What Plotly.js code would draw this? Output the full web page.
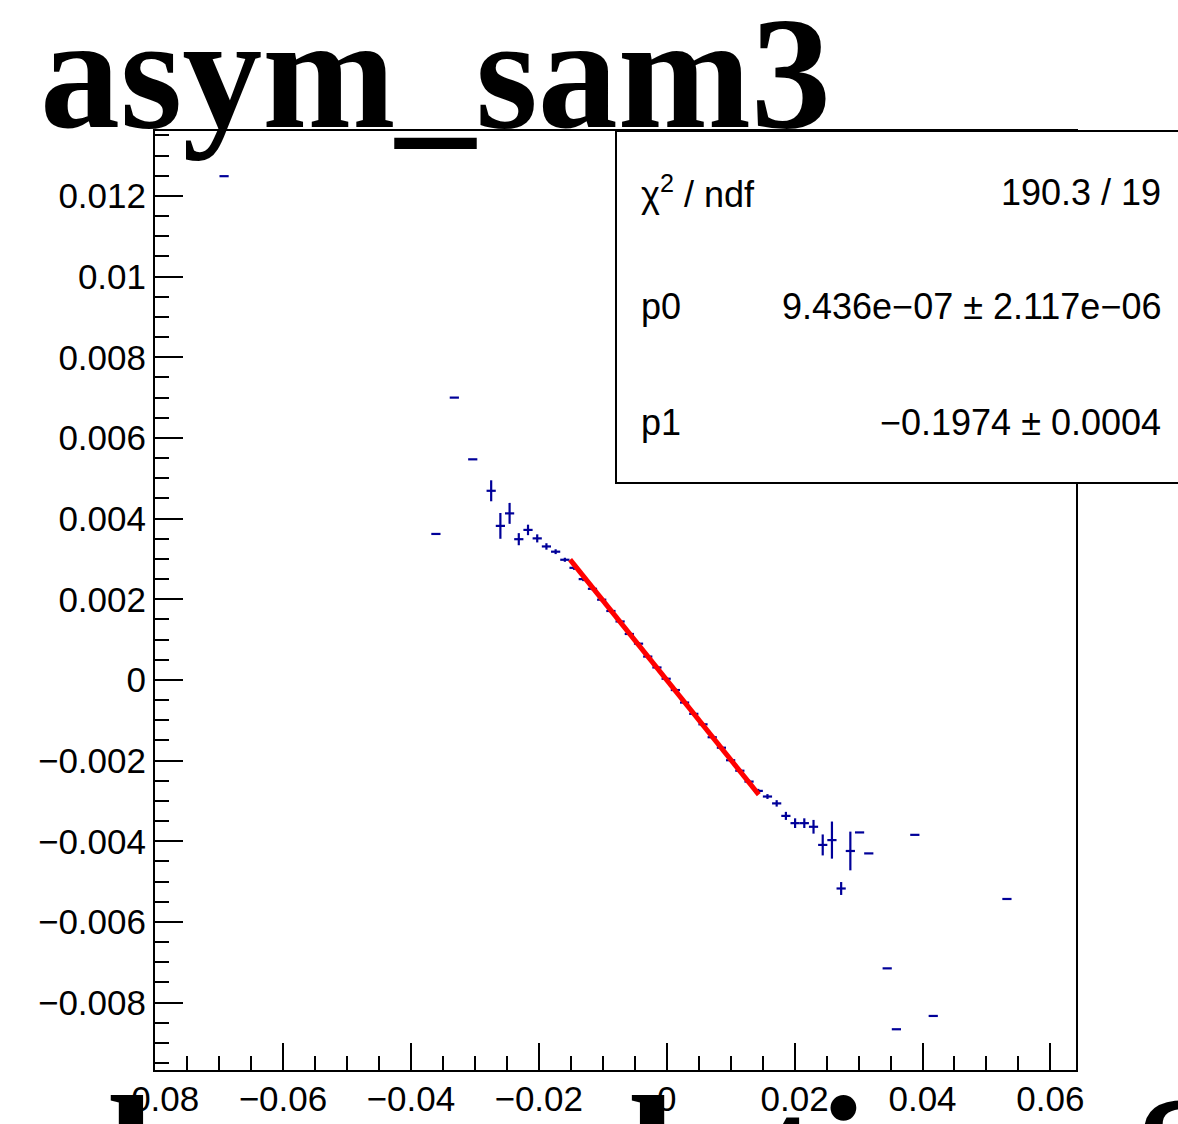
<!DOCTYPE html>
<html><head><meta charset="utf-8">
<script src="https://cdn.plot.ly/plotly-3.0.1.min.js"></script>
<style>html,body{margin:0;padding:0;background:#fff;overflow:hidden;} #chart{width:1178px;height:1124px;}</style>
</head><body><div id="chart"></div>
<script>
// ---- data (TProfile bins: centre, mean, error) ----
const binCenters = [-0.0692, -0.03608, -0.0332, -0.03032, -0.02744, -0.026, -0.02456, -0.02312, -0.02168, -0.02024,
  -0.0188, -0.01736, -0.01592, -0.01448, -0.01304, -0.0116, -0.01016, -0.00872, -0.00728, -0.00584,
  -0.0044, -0.00296, -0.00152, -0.00008, 0.00136, 0.0028, 0.00424, 0.00568, 0.00712, 0.00856,
  0.01, 0.01144, 0.01288, 0.01432, 0.01576, 0.0172, 0.01864, 0.02008, 0.02152, 0.02296,
  0.0244, 0.02584, 0.02728, 0.02872, 0.03016, 0.0316, 0.03448, 0.03592, 0.0388, 0.04168, 0.0532];
const profileMeans = [0.01249, 0.00362, 0.00700, 0.00547, 0.00469, 0.00382, 0.00413, 0.00349, 0.00372, 0.00351,
  0.00331, 0.00318, 0.00298, 0.00278, 0.00250, 0.00226, 0.00199, 0.00171, 0.00145, 0.00114,
  0.00090, 0.00058, 0.00031, 0.00003, -0.00025, -0.00056, -0.00084, -0.00110, -0.00142, -0.00168,
  -0.00199, -0.00225, -0.00252, -0.00275, -0.00289, -0.00306, -0.00337, -0.00355, -0.00355, -0.00364,
  -0.00409, -0.00397, -0.00517, -0.00424, -0.00378, -0.00430, -0.00715, -0.00866, -0.00384, -0.00833, -0.00543];
const profileErrors = [0, 0, 0, 0, 0.00026, 0.00032, 0.00026, 0.00015, 0.00013, 0.00010,
  0.00008, 0.00006, 0.00005, 0.00005, 0.00005, 0.00004, 0.00004, 0.00004, 0.00004, 0.00004,
  0.00004, 0.00004, 0.00004, 0.00004, 0.00004, 0.00004, 0.00004, 0.00004, 0.00004, 0.00004,
  0.00004, 0.00004, 0.00005, 0.00005, 0.00006, 0.00008, 0.00010, 0.00012, 0.00012, 0.00017,
  0.00026, 0.00046, 0.00016, 0.00048, 0, 0, 0, 0, 0, 0, 0];
const binWidth = 0.00144;
const xRange = [-0.08, 0.064];
const yRange = [-0.00967, 0.01361];

// fit result (pol1)
const fitP0 = 9.436e-07;
const fitP1 = -0.1974;
const fitRange = [-0.0151, 0.0144];

// texts
const chartTitle = 'asym_sam3';
const xTitle = 'd_correlation_SAM3';
const statsLabels = ['\u03C7<sup>2</sup> / ndf', 'p0', 'p1'];
const statsValues = ['190.3 / 19', '9.436e\u221207 \u00B1 2.117e\u221206', '\u22120.1974 \u00B1 0.0004'];

// ---- layout helpers (pixel geometry of the frame) ----
const W = 1178, H = 1124;
const L = 155, R = 1076, T = 131, B = 1070;
const px = v => (v - L) / (R - L);
const py = v => (B - v) / (B - T);

const fitX = fitRange.slice();
const fitY = fitX.map(x => fitP0 + fitP1 * x);

const blue = '#000099';
const traces = [
  {
    x: binCenters, y: profileMeans, type: 'scatter', mode: 'markers',
    marker: {size: 0.1, color: blue, opacity: 0},
    error_x: {type: 'constant', value: binWidth / 2, width: 0, thickness: 2.2, color: blue},
    error_y: {type: 'data', array: profileErrors, visible: true, width: 0, thickness: 2.2, color: blue},
    cliponaxis: true, hoverinfo: 'x+y'
  },
  {
    x: fitX, y: fitY, type: 'scatter', mode: 'lines',
    line: {color: '#ff0000', width: 5}, hoverinfo: 'skip'
  }
];

const tickFont = {family: 'Liberation Sans, Arial, sans-serif', size: 35, color: '#000'};
const statFont = {family: 'Liberation Sans, Arial, sans-serif', size: 36, color: '#000'};

const rowY = [192, 306, 423];
const annotations = [];
statsLabels.forEach((t, i) => annotations.push({
  text: t, xref: 'paper', yref: 'paper', x: px(639), y: py(rowY[i]),
  xanchor: 'left', yanchor: 'middle', showarrow: false, font: statFont
}));
statsValues.forEach((t, i) => annotations.push({
  text: t, xref: 'paper', yref: 'paper', x: px(1163), y: py(rowY[i]),
  xanchor: 'right', yanchor: 'middle', showarrow: false, font: statFont
}));
annotations.push({
  text: '<b>' + xTitle + '</b>', xref: 'paper', yref: 'paper', x: px(56), y: py(1059),
  xanchor: 'left', yanchor: 'top', showarrow: false,
  font: {family: 'Liberation Serif, Times New Roman, serif', size: 172, color: '#000'}
});

const layout = {
  width: W, height: H,
  margin: {l: L, r: W - R, t: T, b: H - B, pad: 0},
  paper_bgcolor: '#fff', plot_bgcolor: '#fff',
  showlegend: false,
  title: {
    text: '<b>' + chartTitle + '</b>',
    font: {family: 'Liberation Serif, Times New Roman, serif', size: 160, color: '#000'},
    xref: 'container', yref: 'container', x: 40 / W, xanchor: 'left', y: 1 - 15 / H, yanchor: 'top'
  },
  xaxis: {
    range: xRange, showgrid: false, zeroline: false,
    showline: true, linecolor: '#000', linewidth: 2, mirror: true,
    ticks: 'inside', ticklen: 27, tickwidth: 2, tickcolor: '#000',
    dtick: 0.02, tick0: 0,
    minor: {ticks: 'inside', ticklen: 14, tickwidth: 2, tickcolor: '#000', dtick: 0.005, showgrid: false},
    tickfont: tickFont, ticklabelstandoff: -3
  },
  yaxis: {
    range: yRange, showgrid: false, zeroline: false,
    showline: true, linecolor: '#000', linewidth: 2, mirror: true,
    ticks: 'inside', ticklen: 28, tickwidth: 2, tickcolor: '#000',
    dtick: 0.002, tick0: 0,
    minor: {ticks: 'inside', ticklen: 14, tickwidth: 2, tickcolor: '#000', dtick: 0.0005, showgrid: false},
    tickfont: tickFont, ticklabelstandoff: 0
  },
  shapes: [{
    type: 'rect', xref: 'paper', yref: 'paper', layer: 'above',
    x0: px(616), x1: px(1190), y0: py(483), y1: py(131),
    line: {color: '#000', width: 2}, fillcolor: '#fff'
  }],
  annotations: annotations
};

Plotly.newPlot('chart', traces, layout, {staticPlot: true, displayModeBar: false});
</script>
</body></html>
